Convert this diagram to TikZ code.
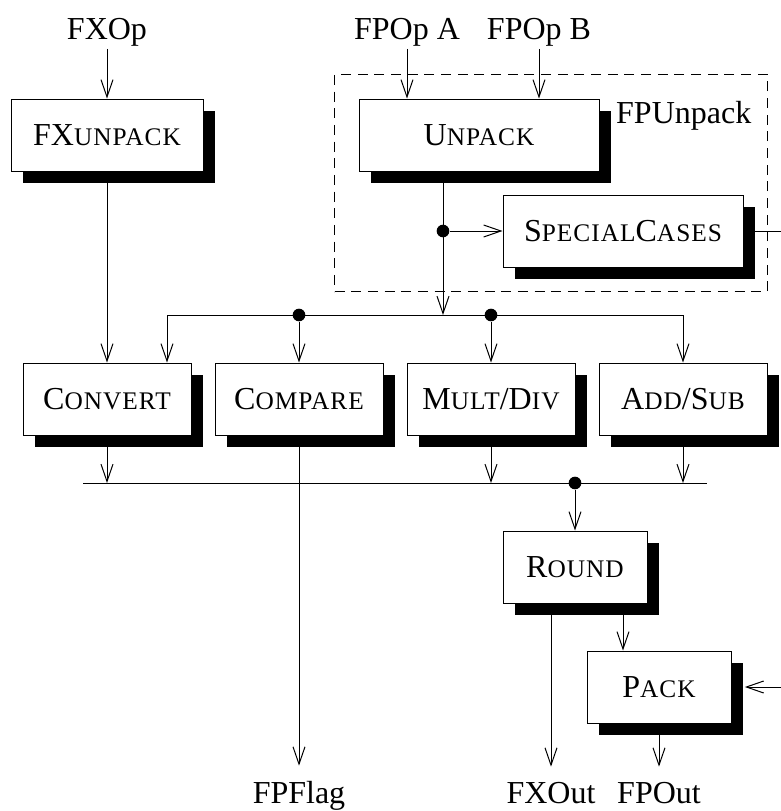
\documentclass[tikz,border=0pt]{standalone}
\usepackage{fontspec}
\setmainfont{Liberation Serif}
\newfontfamily\capsfont[LetterSpace=4]{Liberation Serif}
\usepackage{tikz}
\usetikzlibrary{arrows.meta,positioning,fit,calc,shadows}
\newcommand{\lowcaps}[1]{{\capsfont\fontsize{19}{22}\selectfont #1}}

\begin{document}
\begin{tikzpicture}[
  x=0.75pt, y=-0.75pt,
  font={\fontsize{24}{28}\selectfont},
  line width=0.75pt,
  box/.style={draw, fill=white, minimum height=54pt, inner sep=0pt,
    drop shadow={shadow xshift=9pt, shadow yshift=-9pt, fill=black, opacity=1}},
  io/.style={inner sep=2pt},
  arr/.style={-{Straight Barb[length=13pt, width=9pt]}},
  exitarr/.style={arr, shorten >=9pt},
  dot/.style={circle, fill=black, inner sep=0pt, minimum size=9.5pt}
]
\useasboundingbox (0,0) rectangle (781,811);

\node[io, anchor=base] (fxop) at (107,39) {FXOp};
\node[io, anchor=base] (fpopa) at (407,39) {FPOp A};
\node[io, anchor=base] (fpopb) at (539,39) {FPOp B};

\node[box, minimum width=144pt] (fxunpack) at (107,135) {FX\lowcaps{UNPACK}};
\node[box, minimum width=180pt] (unpack) at (479,135) {U\lowcaps{NPACK}};
\node[box, minimum width=180pt] (special) at (623,231) {S\lowcaps{PECIAL}C\lowcaps{ASES}};
\node[draw, dash pattern=on 7.5pt off 5pt, fit=(unpack)(special), inner sep=18pt] (fpunpackbox) {};
\node[io, anchor=base west] (fpunpack) at (613,123) {FPUnpack};

\node[box, minimum width=126pt] (convert) at (107,399) {C\lowcaps{ONVERT}};
\node[box, minimum width=126pt] (compare) at (299,399) {C\lowcaps{OMPARE}};
\node[box, minimum width=126pt] (multdiv) at (491,399) {M\lowcaps{ULT}/D\lowcaps{IV}};
\node[box, minimum width=126pt] (addsub) at (683,399) {A\lowcaps{DD}/S\lowcaps{UB}};

\node[box, minimum width=108pt] (round) at (575,567) {R\lowcaps{OUND}};
\node[box, minimum width=108pt] (pack) at (659,687) {P\lowcaps{ACK}};

\node[io, anchor=base] (fpflag) at (299,803) {FPFlag};
\node[io, anchor=base] (fxout) at (551,803) {FXOut};
\node[io, anchor=base] (fpout) at (659,803) {FPOut};

\coordinate (split) at (443,231);
\coordinate (busa) at (167,315);
\coordinate (busb) at (83,483);
\coordinate (busbend) at (707,483);

\draw[arr] (fxop) -- (fxunpack);
\draw[arr] (fpopa) -- (fpopa |- unpack.north);
\draw[arr] (fpopb) -- (fpopb |- unpack.north);
\draw[arr] (fxunpack) -- (convert);

\draw[arr] (split |- unpack.south) -- (split |- busa);
\node[dot] (dotsplit) at (split) {};
\draw[arr] (dotsplit) -- (special);
\draw[arr] (special.east) -- ++(40,0) |- ([xshift=10pt]pack.east);

\draw (busa) -- (addsub.north |- busa);
\draw[arr] (busa) -- (busa |- convert.north);
\node[dot] (dotcmp) at (compare.north |- busa) {};
\node[dot] (dotmul) at (multdiv.north |- busa) {};
\draw[arr] (dotcmp) -- (compare);
\draw[arr] (dotmul) -- (multdiv);
\draw[arr] (addsub.north |- busa) -- (addsub);

\draw (busb) -- (busbend);
\draw[arr] (convert) -- (convert |- busb);
\draw[arr] (multdiv) -- (multdiv |- busb);
\draw[arr] (addsub) -- (addsub |- busb);
\draw[exitarr] (compare) -- (fpflag);

\node[dot] (dotround) at (round.north |- busb) {};
\draw[arr] (dotround) -- (round);
\draw[exitarr] (fxout |- round.south) -- (fxout);
\draw[arr] ([xshift=36pt]round.south) -- ([xshift=36pt]round.south |- pack.north);
\draw[exitarr] (pack) -- (fpout);
\end{tikzpicture}
\end{document}
